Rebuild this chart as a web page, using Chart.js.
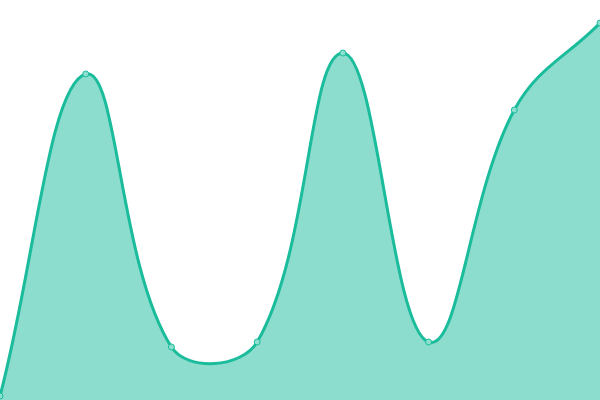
<!DOCTYPE html>
<html>
<head>
<meta charset="utf-8">
<style>
  html, body { margin: 0; padding: 0; background: #fff; }
  #wrap { width: 600px; height: 400px; }
</style>
<script src="https://cdn.jsdelivr.net/npm/chart.js@4"></script>
</head>
<body>
<div id="wrap"><canvas id="chart1"></canvas></div>
<script>
var labels = ['1', '2', '3', '4', '5', '6', '7', '8'];
var values = [4, 326, 53, 58, 347, 58, 290, 377];

var areaChart = new Chart(document.getElementById("chart1"), {
  type: 'line',
  data: {
    labels: labels,
    datasets: [{
      data: values,
      fill: 'origin',
      tension: 0.4,
      clip: false,
      borderColor: '#1abc9c',
      borderWidth: 3,
      backgroundColor: 'rgba(26, 188, 156, 0.5)',
      pointRadius: 3,
      pointBorderWidth: 1,
      pointBackgroundColor: '#8de0cf',
      pointBorderColor: '#1abc9c'
    }]
  },
  options: {
    responsive: true,
    maintainAspectRatio: false,
    animation: false,
    layout: { padding: 0, autoPadding: false },
    plugins: {
      legend: { display: false },
      tooltip: { enabled: false }
    },
    scales: {
      x: { display: false, offset: false },
      y: { display: false, min: 0, max: 400 }
    }
  }
});
</script>
</body>
</html>
